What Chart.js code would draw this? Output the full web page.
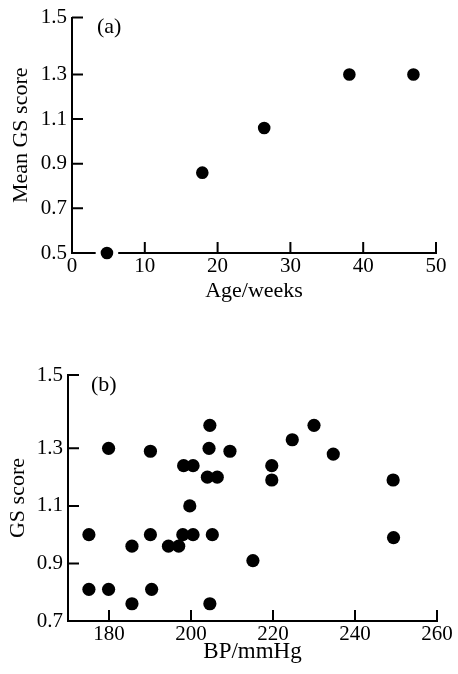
<!DOCTYPE html>
<html>
<head>
<meta charset="utf-8">
<script src="https://cdn.jsdelivr.net/npm/chart.js@4/dist/chart.umd.min.js"></script>
<style>
    body { margin: 0; background: #fff; }
    .panel { position: absolute; left: 0; }
</style>
</head>
<body>
<div class="panel" style="top: 0px"><canvas id="chartA" width="458" height="310"></canvas></div>
<div class="panel" style="top: 330px"><canvas id="chartB" width="458" height="344"></canvas></div>
<script>
// (a) mean GS score vs age
const ageWeeks = [4.8, 17.9, 26.4, 38.1, 46.9]
const meanGS = [0.5, 0.86, 1.06, 1.3, 1.3]
const ageTicks = [0, 10, 20, 30, 40, 50]
const meanTicks = [0.5, 0.7, 0.9, 1.1, 1.3, 1.5]

// (b) GS score vs blood pressure
const bp = [
    175.1, 175.1, 179.9, 179.9, 185.6, 185.6, 190.1, 190.1, 190.4, 194.5, 197.0,
    198.0, 198.2, 200.5, 199.7, 200.5, 204.6, 204.4, 204.0, 206.4, 205.2, 204.6,
    209.5, 215.1, 219.7, 219.7, 224.7, 230.0, 234.7, 249.3, 249.4,
]
const gs = [
    1.0, 0.81, 1.3, 0.81, 0.96, 0.76, 1.29, 1.0, 0.81, 0.96, 0.96,
    1.0, 1.24, 1.24, 1.1, 1.0, 1.38, 1.3, 1.2, 1.2, 1.0, 0.76,
    1.29, 0.91, 1.24, 1.19, 1.33, 1.38, 1.28, 1.19, 0.99,
]
const bpTicks = [180, 200, 220, 240, 260]
const gsTicks = [0.7, 0.9, 1.1, 1.3, 1.5]

// the printed figure puts its top "1.5" tick right at the end of the axis
const yTop = 1.555

const serif = "'Liberation Serif', 'DejaVu Serif', serif"

// ticks in the original point inwards, so draw them ourselves
const inwardTicks = {
    id: "inwardTicks",
    beforeDatasetsDraw(chart) {
        const { ctx, chartArea, scales } = chart
        const len = 11
        ctx.save()
        ctx.strokeStyle = "#000"
        ctx.lineWidth = 2
        ctx.beginPath()
        scales.x.ticks.forEach((t) => {
            const px = scales.x.getPixelForValue(t.value)
            ctx.moveTo(px, chartArea.bottom)
            ctx.lineTo(px, chartArea.bottom - len)
        })
        scales.y.ticks.forEach((t) => {
            const py = scales.y.getPixelForValue(t.value)
            ctx.moveTo(chartArea.left, py)
            ctx.lineTo(chartArea.left + len, py)
        })
        ctx.stroke()
        ctx.restore()
    },
}

const panelLabel = {
    id: "panelLabel",
    afterDraw(chart, args, opts) {
        const { ctx, chartArea } = chart
        ctx.save()
        ctx.font = "22px " + serif
        ctx.fillStyle = "#000"
        ctx.textBaseline = "middle"
        ctx.fillText(opts.text, chartArea.left + opts.dx, chartArea.top + 10)
        ctx.restore()
    },
}

const makeChart = (canvas, cfg) =>
    new Chart(canvas, {
        type: "scatter",
        data: {
            datasets: [
                {
                    data: cfg.xs.map((x, i) => ({ x: x, y: cfg.ys[i] })),
                    backgroundColor: "#000",
                    borderColor: cfg.ring ? "#fff" : "#000",
                    pointRadius: cfg.ring ? 8.8 : 6.6,
                    pointBorderWidth: cfg.ring ? 5 : 0,
                    clip: false,
                },
            ],
        },
        options: {
            responsive: false,
            animation: false,
            events: [],
            devicePixelRatio: 1,
            layout: { padding: { left: 0, top: cfg.top, right: cfg.right, bottom: 0 } },
            plugins: {
                legend: false,
                tooltip: { enabled: false },
                panelLabel: { text: cfg.label, dx: cfg.labelDx },
            },
            scales: {
                x: {
                    type: "linear",
                    min: cfg.xMin,
                    max: cfg.xMax,
                    afterBuildTicks: (s) => {
                        s.ticks = cfg.xTicks.map((v) => ({ value: v }))
                    },
                    afterFit: (s) => {
                        s.height = cfg.xHeight
                    },
                    grid: { display: true, drawOnChartArea: false, drawTicks: false },
                    border: { display: true, color: "#000", width: 2 },
                    ticks: {
                        color: "#000",
                        padding: 1,
                        maxRotation: 0,
                        font: { family: serif, size: 21 },
                        callback: (v) => String(v),
                    },
                    title: {
                        display: true,
                        text: cfg.xTitle,
                        color: "#000",
                        font: { family: serif, size: cfg.xTitleSize },
                        padding: { top: 0, bottom: cfg.xTitlePad },
                    },
                },
                y: {
                    type: "linear",
                    min: cfg.yMin,
                    max: yTop,
                    afterBuildTicks: (s) => {
                        s.ticks = cfg.yTicks.map((v) => ({ value: v === 1.5 ? yTop : v }))
                    },
                    afterFit: (s) => {
                        s.width = cfg.yWidth
                    },
                    grid: { display: true, drawOnChartArea: false, drawTicks: false },
                    border: { display: true, color: "#000", width: 2 },
                    ticks: {
                        color: "#000",
                        padding: 5,
                        font: { family: serif, size: 21 },
                        callback: (v, i) => cfg.yTicks[i].toFixed(1),
                    },
                    title: {
                        display: true,
                        text: cfg.yTitle,
                        color: "#000",
                        font: { family: serif, size: 22 },
                        padding: { top: cfg.yTitlePad, bottom: 0 },
                    },
                },
            },
        },
        plugins: [inwardTicks, panelLabel],
    })

makeChart(document.getElementById("chartA"), {
    xs: ageWeeks,
    ys: meanGS,
    ring: true,
    xMin: 0,
    xMax: 50,
    xTicks: ageTicks,
    yMin: 0.5,
    yTicks: meanTicks,
    xTitle: "Age/weeks",
    xTitleSize: 22,
    yTitle: "Mean GS score",
    label: "(a)",
    labelDx: 25,
    top: 15,
    right: 22,
    yWidth: 72,
    xHeight: 57,
    xTitlePad: 6,
    yTitlePad: 8.5,
})

makeChart(document.getElementById("chartB"), {
    xs: bp,
    ys: gs,
    ring: false,
    xMin: 170,
    xMax: 260,
    xTicks: bpTicks,
    yMin: 0.7,
    yTicks: gsTicks,
    xTitle: "BP/mmHg",
    xTitleSize: 23,
    yTitle: "GS score",
    label: "(b)",
    labelDx: 23,
    top: 45,
    right: 21,
    yWidth: 68,
    xHeight: 53,
    xTitlePad: 8,
    yTitlePad: 5,
})
</script>
</body>
</html>
